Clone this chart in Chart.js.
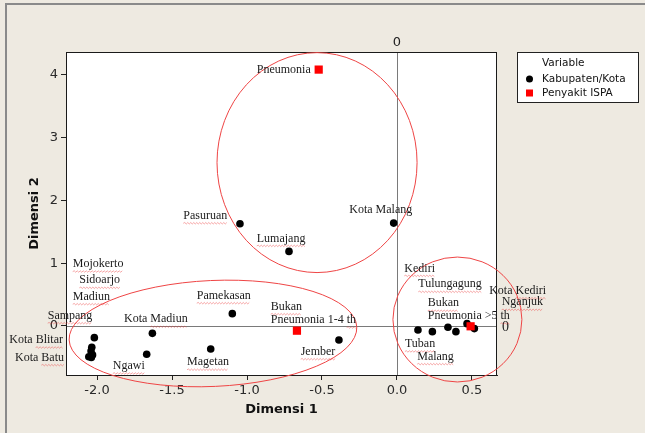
<!DOCTYPE html>
<html>
<head>
<meta charset="utf-8">
<script src="https://cdn.jsdelivr.net/npm/chart.js@4.4.1/dist/chart.umd.min.js"></script>
<style>
  html, body { margin: 0; padding: 0; background: #eeeae1; }
  canvas { display: block; }
</style>
</head>
<body>
<canvas id="c" width="645" height="433"></canvas>
<script>
// ---- data (Dimensi 1 / Dimensi 2) ----
const kabX = [-2.018, -2.035, -2.040, -2.030, -2.055, -2.038,
              -1.631, -1.669, -1.242, -1.098, -0.387,
              -1.047, -0.720, -0.022,
               0.140,  0.236,  0.340,  0.393,  0.467,  0.516];
const kabY = [-0.186, -0.340, -0.400, -0.460, -0.490, -0.500,
              -0.117, -0.450, -0.366,  0.196, -0.223,
               1.627,  1.187,  1.637,
              -0.064, -0.090, -0.020, -0.090,  0.037, -0.042];

const ispaX = [-0.522, -0.667, 0.491];
const ispaY = [ 4.080, -0.075, -0.005];

const xTicks = [-2.0, -1.5, -1.0, -0.5, 0.0, 0.5];
const yTicks = [0, 1, 2, 3, 4];

// text labels (Word annotations), anchored in data units
const labelText = ['Mojokerto', 'Sidoarjo', 'Madiun', 'Sampang', 'Kota Blitar', 'Kota Batu',
                   'Kota Madiun', 'Ngawi', 'Magetan', 'Pamekasan', 'Bukan', 'Pneumonia 1-4 th', 'Jember',
                   'Pneumonia', 'Pasuruan', 'Lumajang', 'Kota Malang',
                   'Kediri', 'Tulungagung', 'Kota Kediri', 'Nganjuk', 'Bukan', 'Pneumonia >5 th', 'Tuban', 'Malang'];
const labelX = [-2.162, -2.118, -2.162, -2.329, -2.585, -2.547,
                -1.820, -1.895, -1.400, -1.335, -0.842, -0.842, -0.642,
                -0.935, -1.425, -0.935, -0.318,
                 0.049,  0.142,  0.615,  0.698,  0.205,  0.205,  0.053,  0.135];
const labelY = [ 0.986,  0.727,  0.466,  0.164, -0.223, -0.504,
                 0.107, -0.636, -0.577,  0.482,  0.307,  0.095, -0.409,
                 4.070,  1.754,  1.394,  1.844,
                 0.917,  0.663,  0.561,  0.377,  0.361,  0.159, -0.286, -0.488];
// words carrying a spell-check underline in the original
const spellWords = ['Mojokerto', 'Sidoarjo', 'Madiun', 'Sampang', 'Blitar', 'Batu', 'Ngawi', 'Magetan',
                    'Pamekasan', 'Bukan', 'th', 'Jember', 'Pasuruan', 'Lumajang', 'Kediri',
                    'Tulungagung', 'Nganjuk', 'Tuban', 'Malang'];

// cluster circles (centre, radii in data units, rotation in degrees)
const ellCx = [-0.533, -1.227, 0.403];
const ellCy = [ 2.600, -0.119, 0.103];
const ellRx = [ 0.667,  0.960, 0.430];
const ellRy = [ 1.750,  0.843, 0.994];
const ellRot = [0, -2.6, 0];

// ---- drawing helpers ----
function squiggle(ctx, x1, x2, y) {
  ctx.beginPath();
  let up = true;
  ctx.moveTo(x1, y);
  for (let x = x1 + 1.5; x <= x2; x += 1.5) {
    ctx.lineTo(x, up ? y - 0.7 : y + 0.7);
    up = !up;
  }
  ctx.stroke();
}

const decor = {
  id: 'decor',
  beforeDraw(chart) {
    const { ctx, chartArea: a } = chart;
    ctx.save();
    ctx.fillStyle = '#eeeae1';
    ctx.fillRect(0, 0, chart.width, chart.height);
    // outer frame (left + top visible)
    ctx.strokeStyle = '#8a8a8a';
    ctx.lineWidth = 2;
    ctx.beginPath();
    ctx.moveTo(6, chart.height);
    ctx.lineTo(6, 4);
    ctx.lineTo(chart.width, 4);
    ctx.stroke();
    ctx.fillStyle = '#ffffff';
    ctx.fillRect(a.left, a.top, a.right - a.left, a.bottom - a.top);
    ctx.restore();
  },
  beforeDatasetsDraw(chart) {
    const { ctx, chartArea: a, scales: { x, y } } = chart;
    ctx.save();
    ctx.strokeStyle = '#7a7a7a';
    ctx.lineWidth = 1;
    const x0 = Math.round(x.getPixelForValue(0)) + 0.5;
    const y0 = Math.round(y.getPixelForValue(0)) + 0.5;
    ctx.beginPath();
    ctx.moveTo(x0, a.top); ctx.lineTo(x0, a.bottom);
    ctx.moveTo(a.left, y0); ctx.lineTo(a.right, y0);
    ctx.stroke();
    ctx.restore();
  },
  afterDatasetsDraw(chart) {
    const { ctx, chartArea: a, scales: { x, y } } = chart;
    ctx.save();

    // plot frame
    ctx.strokeStyle = '#1a1a1a';
    ctx.lineWidth = 1;
    ctx.strokeRect(Math.round(a.left) + 0.5, Math.round(a.top) + 0.5,
                   Math.round(a.right - a.left) - 1, Math.round(a.bottom - a.top));

    // reference line labels
    ctx.fillStyle = '#222';
    ctx.font = '13px "DejaVu Sans"';
    ctx.textAlign = 'center';
    ctx.textBaseline = 'middle';
    ctx.fillText('0', x.getPixelForValue(0), a.top - 9);
    ctx.font = '14px "Liberation Serif"';
    ctx.textAlign = 'left';
    ctx.fillText('0', a.right + 5, y.getPixelForValue(0) + 1);

    // cluster ellipses
    ctx.strokeStyle = '#ef4545';
    ctx.lineWidth = 1;
    ellCx.forEach((cx, i) => {
      const px = x.getPixelForValue(cx);
      const py = y.getPixelForValue(ellCy[i]);
      const rx = Math.abs(x.getPixelForValue(cx + ellRx[i]) - px);
      const ry = Math.abs(y.getPixelForValue(ellCy[i] + ellRy[i]) - py);
      ctx.beginPath();
      ctx.ellipse(px, py, rx, ry, ellRot[i] * Math.PI / 180, 0, Math.PI * 2);
      ctx.stroke();
    });

    // text labels
    ctx.font = '12px "Liberation Serif"';
    ctx.textAlign = 'left';
    ctx.textBaseline = 'middle';
    labelText.forEach((t, i) => {
      const px = x.getPixelForValue(labelX[i]);
      const py = y.getPixelForValue(labelY[i]);
      ctx.fillStyle = '#1a1a1a';
      ctx.fillText(t, px, py);
      // spell-check squiggles (skip the "Kota Malang" and top "Pneumonia" ones)
      if (t === 'Kota Malang') return;
      ctx.strokeStyle = 'rgba(235,60,60,0.45)';
      let cur = px;
      t.split(' ').forEach(w => {
        const ww = ctx.measureText(w).width;
        if (spellWords.includes(w)) squiggle(ctx, cur, cur + ww, py + 7.5);
        cur += ww + ctx.measureText(' ').width;
      });
    });

    // axis titles
    ctx.fillStyle = '#111';
    ctx.font = 'bold 13px "DejaVu Sans"';
    ctx.textAlign = 'center';
    ctx.fillText('Dimensi 1', (a.left + a.right) / 2, a.bottom + 35);
    ctx.save();
    ctx.translate(a.left - 31, (a.top + a.bottom) / 2);
    ctx.rotate(-Math.PI / 2);
    ctx.fillText('Dimensi 2', 0, 0);
    ctx.restore();

    // legend box
    const lx = a.right + 20, ly = a.top;
    ctx.fillStyle = '#ffffff';
    ctx.fillRect(lx, ly, 121, 50);
    ctx.strokeStyle = '#222';
    ctx.strokeRect(lx + 0.5, ly + 0.5, 121, 50);
    ctx.font = '10.5px "DejaVu Sans"';
    ctx.textAlign = 'left';
    ctx.fillStyle = '#111';
    ctx.fillText('Variable', lx + 25, ly + 11);
    ctx.fillText('Kabupaten/Kota', lx + 25, ly + 27);
    ctx.fillText('Penyakit ISPA', lx + 25, ly + 41);
    ctx.fillStyle = '#000';
    ctx.beginPath();
    ctx.arc(lx + 12.5, ly + 27, 3.5, 0, Math.PI * 2);
    ctx.fill();
    ctx.fillStyle = '#ff0000';
    ctx.fillRect(lx + 9, ly + 37.5, 7, 7);

    ctx.restore();
  }
};

const ctx = document.getElementById('c').getContext('2d');
new Chart(ctx, {
  type: 'scatter',
  data: {
    datasets: [
      {
        label: 'Kabupaten/Kota',
        data: kabX.map((v, i) => ({ x: v, y: kabY[i] })),
        backgroundColor: '#000000',
        borderWidth: 0,
        pointRadius: 3.8,
        pointHoverRadius: 3.8,
        order: 1
      },
      {
        label: 'Penyakit ISPA',
        data: ispaX.map((v, i) => ({ x: v, y: ispaY[i] })),
        backgroundColor: '#ff0000',
        borderWidth: 0,
        pointStyle: 'rect',
        pointRadius: 5.8,
        pointHoverRadius: 5.8,
        order: 0
      }
    ]
  },
  options: {
    responsive: false,
    animation: false,
    devicePixelRatio: 1,
    layout: { padding: { left: 0, top: 52, right: 148, bottom: 0 } },
    plugins: { legend: { display: false }, tooltip: { enabled: false } },
    scales: {
      x: {
        type: 'linear',
        min: -2.207,
        max: 0.667,
        afterBuildTicks: s => { s.ticks = xTicks.map(v => ({ value: v })); },
        afterFit: s => { s.height = 58; },
        ticks: {
          callback: v => v.toFixed(1),
          color: '#2a2a2a',
          font: { family: 'DejaVu Sans', size: 13 },
          padding: 3,
          maxRotation: 0
        },
        grid: { drawOnChartArea: false, drawTicks: true, tickLength: 5, color: '#222' },
        border: { display: true, color: '#222' }
      },
      y: {
        type: 'linear',
        min: -0.78,
        max: 4.36,
        afterBuildTicks: s => { s.ticks = yTicks.map(v => ({ value: v })); },
        afterFit: s => { s.width = 66; },
        ticks: {
          callback: v => String(v),
          color: '#2a2a2a',
          font: { family: 'DejaVu Sans', size: 13 },
          padding: 3
        },
        grid: { drawOnChartArea: false, drawTicks: true, tickLength: 5, color: '#222' },
        border: { display: true, color: '#222' }
      }
    }
  },
  plugins: [decor]
});
</script>
</body>
</html>
